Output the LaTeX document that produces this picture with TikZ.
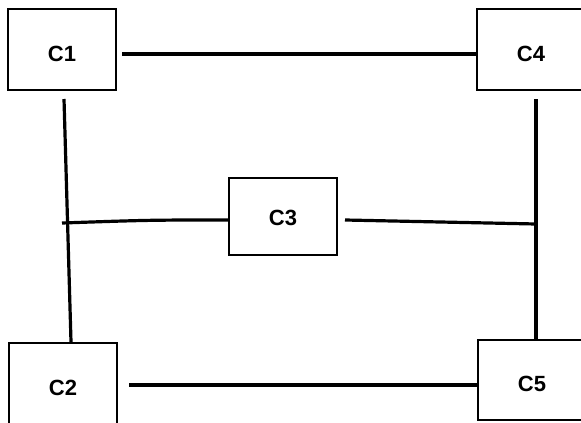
\documentclass[tikz,border=0pt]{standalone}
\usepackage{fontspec}
\setmainfont{Liberation Sans}
\begin{document}
\begin{tikzpicture}[x=1pt,y=-1pt,
  unit/.style={draw, line width=2pt, minimum width=108pt, minimum height=81pt,
    inner sep=0pt, text height=24pt, font=\fontsize{22}{26}\selectfont\bfseries},
  wire/.style={line width=3.2pt}]
  \useasboundingbox (0,0) rectangle (581,423);
  \clip (0,0) rectangle (581,423);
  % blocks
  \node[unit] (c1) at (62,49.5) {C1};
  \node[unit] (c4) at (531,49.5) {C4};
  \node[unit, minimum height=77pt, text height=19pt] (c3) at (283,216.5) {C3};
  \node[unit] (c2) at (63,383.5) {C2};
  \node[unit, minimum height=80pt] (c5) at (532,380) {C5};
  % junction points on the vertical links
  \coordinate (jl) at (62,223);
  \coordinate (jr) at (536,224);
  % links
  \draw[wire] ([xshift=5pt,yshift=-4.5pt]c1.east) -- ([yshift=-4.5pt]c4.west);
  \draw[wire] ([xshift=11pt,yshift=-1.5pt]c2.east) -- ([yshift=-5pt]c5.west);
  \draw[wire] ([xshift=2pt,yshift=-8pt]c1.south) -- ([xshift=8pt]c2.north);
  \draw[wire] ([xshift=5pt,yshift=-8pt]c4.south) -- ([xshift=4pt]c5.north);
  \draw[wire] (jl) .. controls (150,220) .. ([yshift=-3.5pt]c3.west);
  \draw[wire] ([xshift=7pt,yshift=-3.5pt]c3.east) -- (jr);
\end{tikzpicture}
\end{document}
